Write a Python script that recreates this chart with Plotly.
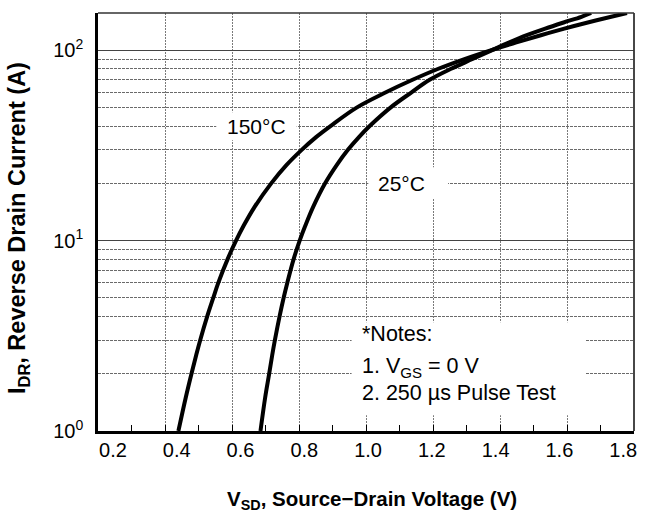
import numpy as np
import plotly.graph_objects as go

# Body-diode forward characteristic: forward voltage at each current level
current_levels = [1, 1.5, 2, 2.5, 3, 4, 5, 6, 8, 10, 12, 15, 20, 25, 30, 35, 40,
                  50, 60, 70, 80, 90, 100, 110, 120, 130, 140, 150, 157]
voltage_150 = [0.440, 0.462, 0.479, 0.493, 0.505, 0.526, 0.544, 0.559, 0.587, 0.612,
               0.635, 0.667, 0.717, 0.763, 0.808, 0.851, 0.894, 0.972, 1.058, 1.139,
               1.216, 1.294, 1.372, 1.449, 1.522, 1.592, 1.662, 1.732, 1.779]
voltage_25 = [0.685, 0.699, 0.711, 0.720, 0.728, 0.742, 0.754, 0.765, 0.784, 0.802,
              0.819, 0.842, 0.878, 0.913, 0.946, 0.979, 1.011, 1.073, 1.135, 1.190,
              1.254, 1.318, 1.375, 1.428, 1.480, 1.535, 1.590, 1.643, 1.672]

x_ticks = [0.2, 0.4, 0.6, 0.8, 1.0, 1.2, 1.4, 1.6, 1.8]
x_tick_text = ["0.2", "0.4", "0.6", "0.8", "1.0", "1.2", "1.4", "1.6", "1.8"]
y_ticks = [1, 10, 100]
y_tick_text = ["10<sup>0</sup>", "10<sup>1</sup>", "10<sup>2</sup>"]
y_minor = [m * d for d in (1, 10, 100) for m in range(2, 10)]

FONT = "Liberation Sans, Arial, Helvetica, sans-serif"
X_RANGE = [0.2, 1.8]
X_LABEL_RANGE = [0.153, 1.834]   # printed scale of the voltage labels
Y_RANGE_LOG = [0, 2.196]

fig = go.Figure()
for v in (voltage_150, voltage_25):
    fig.add_trace(go.Scatter(
        x=v, y=current_levels, mode="lines",
        line=dict(color="black", width=4, shape="spline", smoothing=1.0),
        showlegend=False, hoverinfo="skip",
    ))
# carrier for the label-only voltage axis
fig.add_trace(go.Scatter(x=X_LABEL_RANGE, y=[1, 1], xaxis="x2", mode="lines",
                         line=dict(width=0), showlegend=False, hoverinfo="skip"))

# white panels behind the text labels (above the grid, below the curves)
masks = [
    (0.553, 0.793, 33.7, 47.3),
    (1.007, 1.245, 16.7, 24.3),
    (0.957, 1.654, 1.21, 3.73),
]
shapes = []
for x0, x1, y0, y1 in masks:
    shapes.append(dict(type="rect", xref="x", yref="y", x0=x0, x1=x1, y0=y0, y1=y1,
                       fillcolor="white", line=dict(width=0), layer="between"))
# top and right frame edges (thinner than the axis lines)
shapes.append(dict(type="line", xref="paper", yref="paper", x0=0, x1=1, y0=1, y1=1,
                   line=dict(color="#333", width=1.6)))
shapes.append(dict(type="line", xref="paper", yref="paper", x0=1, x1=1, y0=0, y1=1,
                   line=dict(color="#333", width=1.8)))

lbl_font = dict(family=FONT, size=21, color="black")
note_font = dict(family=FONT, size=21.5, color="black")
annotations = [
    dict(x=0.672, y=np.log10(40), xref="x", yref="y", text="150°C", showarrow=False,
         font=lbl_font),
    dict(x=1.105, y=np.log10(20), xref="x", yref="y", text="25°C", showarrow=False,
         font=lbl_font),
    dict(x=0.983, y=0.512, xref="x", yref="y", text="*Notes:", showarrow=False,
         xanchor="left", font=note_font),
    dict(x=0.983, y=0.335, xref="x", yref="y", text="1. V<sub>GS</sub> = 0 V",
         showarrow=False, xanchor="left", font=note_font),
    dict(x=0.983, y=0.198, xref="x", yref="y", text="2. 250 µs Pulse Test",
         showarrow=False, xanchor="left", font=note_font),
    # axis titles
    dict(x=0.5, y=0, xref="paper", yref="paper", yshift=-69, xshift=6,
         xanchor="center", yanchor="middle",
         text="<b>V<sub>SD</sub>, Source−Drain Voltage (V)</b>", showarrow=False,
         font=dict(family=FONT, size=20.5, color="black")),
    dict(x=0, y=0.5, xref="paper", yref="paper", xshift=-80, yshift=-6, textangle=-90,
         xanchor="center", yanchor="middle",
         text="<b>I<sub>DR</sub>, Reverse Drain Current (A)</b>", showarrow=False,
         font=dict(family=FONT, size=23.5, color="black")),
]

fig.update_layout(
    width=648, height=526,
    margin=dict(l=98, r=11, t=13, b=95),
    paper_bgcolor="white", plot_bgcolor="white",
    shapes=shapes, annotations=annotations,
    font=dict(family=FONT, size=20, color="black"),
    xaxis=dict(
        range=X_RANGE, tickvals=x_ticks, showticklabels=False,
        showline=True, linecolor="black", linewidth=2.5,
        ticks="inside", ticklen=6, tickcolor="black", tickwidth=1,
        showgrid=True, gridcolor="#7a7a7a", gridwidth=1, griddash="2px,1px",
        zeroline=False,
        minor=dict(dtick=0.1, tick0=0.2, ticks="inside", ticklen=6,
                   tickcolor="black", showgrid=False),
    ),
    xaxis2=dict(
        range=X_LABEL_RANGE, overlaying="x", anchor="y", side="bottom",
        tickvals=x_ticks, ticktext=x_tick_text, showgrid=False, showline=False,
        zeroline=False, ticks="", ticklabelstandoff=5, ticklabeloverflow="allow",
        tickfont=dict(family=FONT, size=20, color="black"),
    ),
    yaxis=dict(
        type="log", range=Y_RANGE_LOG, tickvals=y_ticks, ticktext=y_tick_text,
        showline=True, linecolor="black", linewidth=2.5, ticks="",
        showgrid=True, gridcolor="#444", gridwidth=1.3,
        zeroline=False, ticklabelstandoff=8,
        minor=dict(tickvals=y_minor, showgrid=True, gridcolor="#6a6a6a",
                   gridwidth=1, griddash="3px,1px", ticks=""),
        tickfont=dict(family=FONT, size=20, color="black"),
    ),
)

fig.write_html("out.html")
